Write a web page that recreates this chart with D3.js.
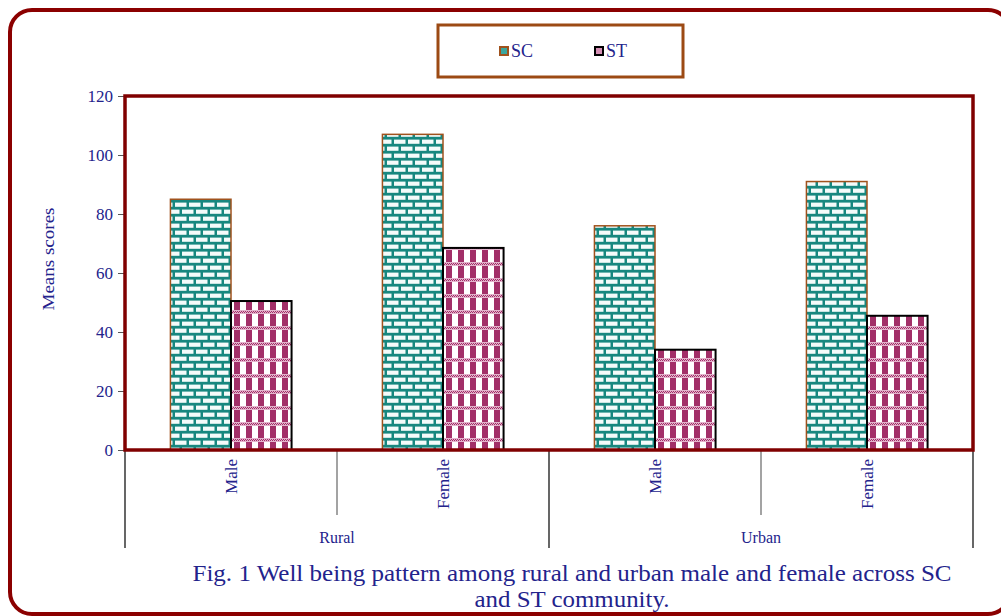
<!DOCTYPE html>
<html>
<head>
<meta charset="utf-8">
<script src="https://cdn.jsdelivr.net/npm/d3@7"></script>
<style>
	body { margin: 0; background: #ffffff; }
	#chart-area { width: 1001px; height: 616px; }
	text { font-family: "Liberation Serif", "Times New Roman", serif; fill: #23238c; }
</style>
</head>
<body>
<div id="chart-area"></div>
<script>

// chart values
const groups = ["Rural", "Urban"];
const genders = ["Male", "Female"];
const series = ["SC", "ST"];
const scValues = [85, 107, 76, 91];
const stValues = [50.5, 68.5, 34, 45.5];
const yTicks = [0, 20, 40, 60, 80, 100, 120];
const yTitle = "Means scores";
const captionLines = ["Fig. 1 Well being pattern among rural and urban male and female across SC", "and ST community."];

class GroupedBarChart {

	constructor(parentElement) {
		this.parentElement = parentElement;
		this.data = [];
		groups.forEach((g, gi) => {
			genders.forEach((s, si) => {
				let i = gi * genders.length + si;
				this.data.push({key: g + "-" + s, group: g, gender: s, SC: scValues[i], ST: stValues[i]});
			});
		});
	}

	initVis() {
		let vis = this;

		vis.margin = {top: 96, right: 28, bottom: 166, left: 125};
		vis.width = 1001 - vis.margin.left - vis.margin.right;
		vis.height = 616 - vis.margin.top - vis.margin.bottom;

		vis.root = d3.select("#" + vis.parentElement).append("svg")
			.attr("width", 1001)
			.attr("height", 616);

		vis.definePatterns();

		// outer rounded frame (runs off the right side)
		vis.root.append("rect")
			.attr("x", 10).attr("y", 10)
			.attr("width", 1000).attr("height", 604)
			.attr("rx", 22).attr("ry", 22)
			.attr("fill", "none")
			.attr("stroke", "#8b0000")
			.attr("stroke-width", 4);

		vis.svg = vis.root.append("g")
			.attr("transform", "translate(" + vis.margin.left + "," + vis.margin.top + ")");

		// scales
		vis.x0 = d3.scaleBand()
			.domain(vis.data.map(d => d.key))
			.range([0, vis.width]);

		vis.x1 = d3.scaleBand()
			.domain(series)
			.range([0, vis.x0.bandwidth()])
			.paddingOuter(0.75);

		vis.y = d3.scaleLinear()
			.domain([0, 120])
			.range([vis.height, 0]);

		// y axis
		vis.yAxis = d3.axisLeft(vis.y)
			.tickValues(yTicks)
			.tickSize(7)
			.tickPadding(5);

		let yg = vis.svg.append("g")
			.attr("class", "y-axis axis")
			.call(vis.yAxis);
		yg.select(".domain").attr("stroke", "#000");
		yg.selectAll(".tick line").attr("stroke", "#555");
		yg.selectAll(".tick text")
			.style("font-size", "17px")
			.style("font-family", "'Liberation Serif', serif")
			.attr("fill", "#23238c");

		vis.svg.append("text")
			.attr("transform", "translate(" + (48 - vis.margin.left) + "," + (vis.height / 2 - 14) + ") rotate(-90)")
			.attr("text-anchor", "middle")
			.attr("dy", "0.35em")
			.style("font-size", "16px")
			.attr("textLength", 103)
			.attr("lengthAdjust", "spacingAndGlyphs")
			.text(yTitle);

		// category axis: separators and labels
		let cat = vis.svg.append("g").attr("class", "x-axis axis");
		let bounds = d3.range(vis.data.length + 1).map(i => i * vis.x0.step());
		cat.selectAll("line.sep")
			.data(bounds)
			.enter().append("line")
			.attr("class", "sep")
			.attr("x1", d => d).attr("x2", d => d)
			.attr("y1", vis.height)
			.attr("y2", (d, i) => i % genders.length === 0 ? vis.height + 98 : vis.height + 65)
			.attr("stroke", (d, i) => i % genders.length === 0 ? "#000" : "#666")
			.attr("stroke-width", 1.2);

		cat.selectAll("text.gender")
			.data(vis.data)
			.enter().append("text")
			.attr("class", "gender")
			.attr("transform", d => "translate(" + (vis.x0(d.key) + vis.x0.bandwidth() / 2) + "," + (vis.height + 9) + ") rotate(-90)")
			.attr("text-anchor", "end")
			.attr("dy", "0.35em")
			.style("font-size", "17px")
			.text(d => d.gender);

		cat.selectAll("text.group")
			.data(groups)
			.enter().append("text")
			.attr("class", "group")
			.attr("x", (d, i) => vis.x0.step() * genders.length * (i + 0.5))
			.attr("y", vis.height + 93)
			.attr("text-anchor", "middle")
			.style("font-size", "16px")
			.text(d => d);

		// bars
		vis.barGroups = vis.svg.append("g").attr("class", "bars");

		// plot border on top of bars
		vis.svg.append("rect")
			.attr("x", 0).attr("y", 0)
			.attr("width", vis.width).attr("height", vis.height)
			.attr("fill", "none")
			.attr("stroke", "#800000")
			.attr("stroke-width", 3.5);

		// legend
		let legend = vis.root.append("g").attr("class", "legend");
		legend.append("rect")
			.attr("x", 438).attr("y", 25)
			.attr("width", 245).attr("height", 52)
			.attr("fill", "#fff")
			.attr("stroke", "#9c4a14")
			.attr("stroke-width", 3);

		let items = legend.selectAll("g.item")
			.data(series)
			.enter().append("g")
			.attr("class", "item")
			.attr("transform", (d, i) => "translate(" + (500 + i * 95) + ",47)");
		items.append("rect")
			.attr("width", 8).attr("height", 8)
			.attr("fill", d => d === "SC" ? "#3aa69e" : "#d58fb4")
			.attr("stroke", d => d === "SC" ? "#a0521d" : "#000")
			.attr("stroke-width", 2);
		items.append("text")
			.attr("x", 11).attr("y", 10)
			.style("font-size", "18px")
			.text(d => d);

		// caption
		vis.root.selectAll("text.caption")
			.data(captionLines)
			.enter().append("text")
			.attr("class", "caption")
			.attr("x", 572)
			.attr("y", (d, i) => 581 + i * 26)
			.attr("text-anchor", "middle")
			.attr("textLength", (d, i) => i === 0 ? 759 : 195)
			.attr("lengthAdjust", "spacingAndGlyphs")
			.style("font-size", "23px")
			.text(d => d);

		this.updateVis();
	}

	definePatterns() {
		let defs = this.root.append("defs");

		// brick pattern for SC
		let brick = defs.append("pattern")
			.attr("id", "brick")
			.attr("patternUnits", "userSpaceOnUse")
			.attr("width", 14).attr("height", 14);
		brick.append("rect").attr("width", 14).attr("height", 14).attr("fill", "#17877f");
		[[1, 1.6, 11.5], [-6, 8.6, 11.5], [8, 8.6, 11.5]].forEach(b => {
			brick.append("rect")
				.attr("x", b[0]).attr("y", b[1])
				.attr("width", b[2]).attr("height", 4.2)
				.attr("fill", "#f4fbfa");
		});

		// checked pattern for ST
		let check = defs.append("pattern")
			.attr("id", "check")
			.attr("patternUnits", "userSpaceOnUse")
			.attr("width", 12).attr("height", 16);
		check.append("rect").attr("width", 12).attr("height", 16).attr("fill", "#ffffff");
		check.append("rect").attr("x", 1).attr("width", 6).attr("height", 16).attr("fill", "#a22f68");
		check.append("rect").attr("y", 6).attr("width", 12).attr("height", 4).attr("fill", "#e3b3cc");
		[0, 2, 4, 6, 8, 10].forEach(px => {
			check.append("rect").attr("x", px).attr("y", 7).attr("width", 1).attr("height", 1).attr("fill", "#a22f68");
			check.append("rect").attr("x", px + 1).attr("y", 8).attr("width", 1).attr("height", 1).attr("fill", "#a22f68");
		});
	}

	updateVis() {
		let vis = this;

		let g = vis.barGroups.selectAll("g.cat")
			.data(vis.data)
			.enter().append("g")
			.attr("class", "cat")
			.attr("transform", d => "translate(" + vis.x0(d.key) + ",0)");

		g.selectAll("rect")
			.data(d => series.map(s => ({series: s, value: d[s]})))
			.enter().append("rect")
			.attr("x", d => vis.x1(d.series))
			.attr("y", d => vis.y(d.value))
			.attr("width", vis.x1.bandwidth())
			.attr("height", d => vis.height - vis.y(d.value))
			.attr("fill", d => d.series === "SC" ? "url(#brick)" : "url(#check)")
			.attr("stroke", d => d.series === "SC" ? "#a0521d" : "#000")
			.attr("stroke-width", d => d.series === "SC" ? 1.5 : 2);
	}
}

let chart = new GroupedBarChart("chart-area");
chart.initVis();

</script>
</body>
</html>
